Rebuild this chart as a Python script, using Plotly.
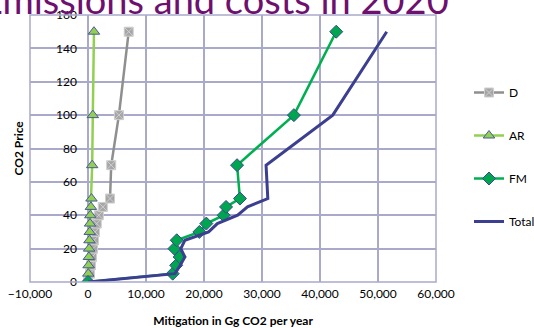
import plotly.graph_objects as go

# CO2 price levels (y values)
price = [0, 5, 10, 15, 20, 25, 30, 35, 40, 45, 50, 70, 100, 150]

# Mitigation in Gg CO2 per year (x values)
d_vals = [0, 340, 520, 690, 860, 1030, 1200, 1510, 1860, 2550, 3800, 4000, 5330, 7020]
ar_vals = [0, 50, 100, 150, 200, 250, 300, 350, 400, 500, 600, 720, 830, 1030]
fm_vals = [0, 14600, 15200, 15800, 14900, 15300, 19200, 20400, 23400, 23800, 26200, 25700, 35500, 42800]
total_vals = [0, 15000, 15900, 16700, 16000, 16700, 20800, 22300, 25800, 27500, 31000, 30700, 42200, 51500]

x_ticks = [-10000, 0, 10000, 20000, 30000, 40000, 50000, 60000]
y_ticks = [0, 20, 40, 60, 80, 100, 120, 140, 160]

GRID = "#a9a9cc"
FONT = "Lato"

fig = go.Figure()
fig.add_trace(go.Scatter(
    x=d_vals, y=price, name="D", mode="lines+markers", legendgroup="D",
    line=dict(color="#8f8f8f", width=2.5),
    marker=dict(symbol="square-x", size=9, color="#a6a6a6",
                line=dict(color="#cfcfcf", width=1)),
))
fig.add_trace(go.Scatter(
    x=ar_vals, y=price, name="AR", mode="lines+markers", legendgroup="AR",
    line=dict(color="#92d050", width=2.5),
    marker=dict(symbol="triangle-up", size=10, color="#92d050",
                line=dict(color="#4a5a9c", width=1)),
))
fig.add_trace(go.Scatter(
    x=fm_vals, y=price, name="FM", mode="lines+markers", legendgroup="FM",
    line=dict(color="#00b050", width=2.5),
    marker=dict(symbol="diamond", size=10, color="#00a550",
                line=dict(color="#3a4a8c", width=1)),
))
fig.add_trace(go.Scatter(
    x=total_vals, y=price, name="Total", mode="lines", legendgroup="Total",
    line=dict(color="#3c3f8f", width=3),
))

L, R, T, B = 30, 98, 15, 46
W, H = 534, 328
pw, ph = W - L - R, H - T - B

fig.update_layout(
    width=W, height=H,
    margin=dict(l=L, r=R, t=T, b=B, pad=0, autoexpand=False),
    paper_bgcolor="white", plot_bgcolor="white",
    font=dict(family=FONT, size=12, color="black"),
    showlegend=True,
    legend=dict(
        xref="container", yref="container",
        x=469 / W, y=1 - 78 / H, xanchor="left", yanchor="top",
        traceorder="grouped", tracegroupgap=24,
        font=dict(family=FONT, size=12, color="black"),
        itemwidth=30, bgcolor="rgba(0,0,0,0)",
    ),
    xaxis=dict(
        range=[-10000, 60000], tickvals=x_ticks, tickformat=",",
        showgrid=True, gridcolor=GRID, gridwidth=1.5,
        zeroline=True, zerolinecolor=GRID, zerolinewidth=1.5,
        showline=False, ticks="", ticklabelstandoff=3, automargin=False,
        tickfont=dict(family=FONT, size=12),
        title=dict(text="<b>Mitigation in Gg CO2 per year</b>",
                   font=dict(family=FONT, size=12), standoff=16),
        fixedrange=True,
    ),
    yaxis=dict(
        range=[0, 160], tickvals=y_ticks,
        anchor="free", position=1 / 7, automargin=False,
        showgrid=True, gridcolor=GRID, gridwidth=1.5,
        zeroline=False, showline=False, ticks="", ticklabelstandoff=11,
        tickfont=dict(family=FONT, size=12),
        fixedrange=True,
    ),
    shapes=[dict(type="rect", xref="paper", yref="paper", x0=0, x1=1, y0=0, y1=1,
                 line=dict(color=GRID, width=1.5), layer="above")],
    annotations=[
        dict(text="<b>CO2 Price</b>", xref="paper", yref="paper",
             x=(18 - L) / pw, y=0.5, textangle=-90, showarrow=False,
             xanchor="center", yanchor="middle", font=dict(family=FONT, size=12)),
        dict(text="Emissions and costs in 2020", xref="paper", yref="paper",
             x=(451 - L) / pw, y=(H - B - 24) / ph, xanchor="right", yanchor="bottom",
             showarrow=False, font=dict(family=FONT, size=38, color="#6e106e")),
    ],
)

fig.write_html("out.html", config={"displayModeBar": False},
               post_script="document.body.style.margin='0';")
